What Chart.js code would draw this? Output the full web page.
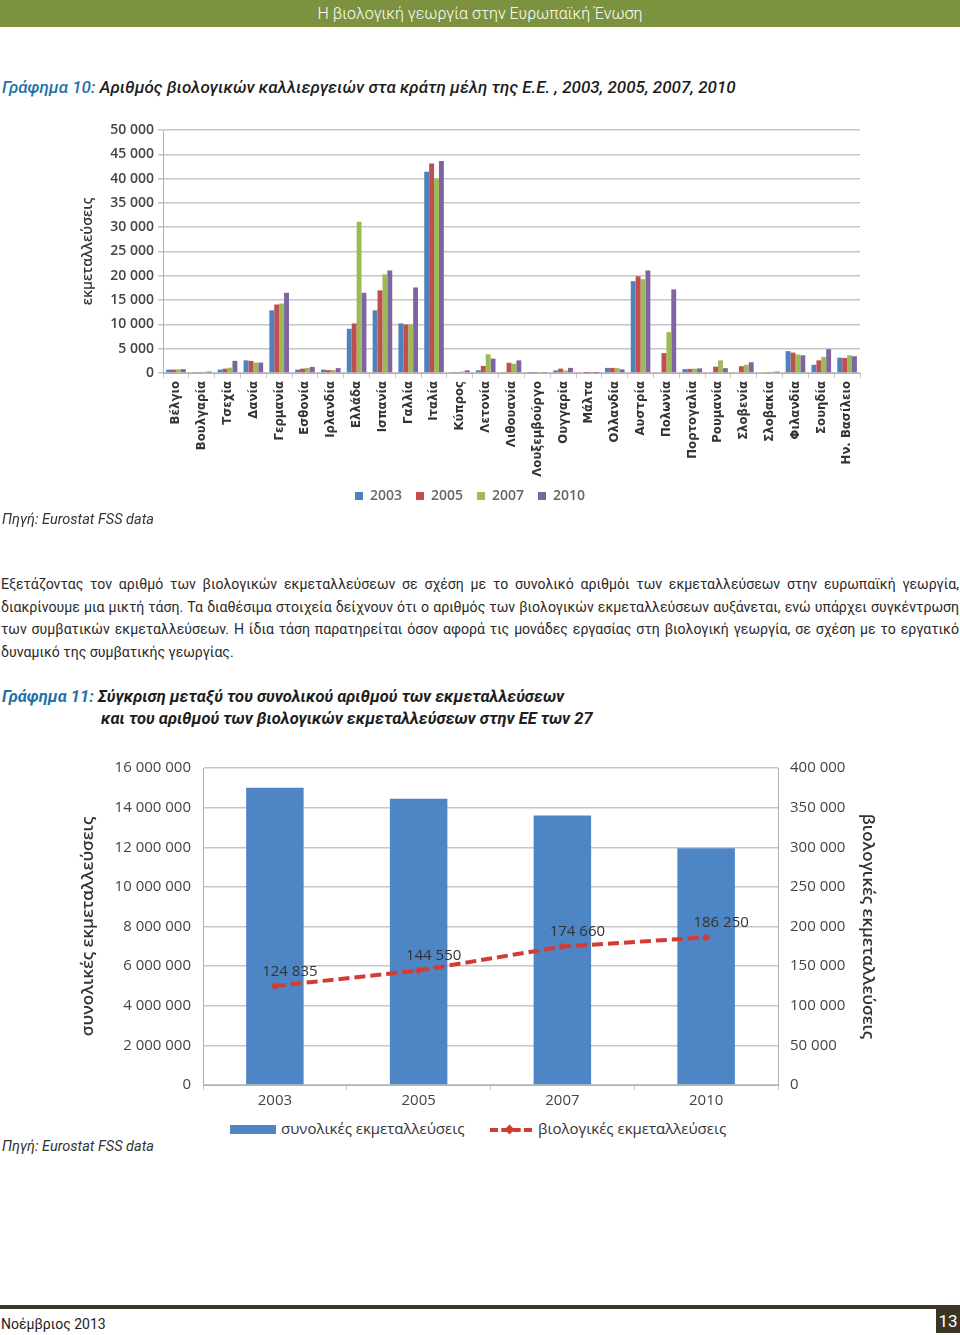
<!DOCTYPE html>
<html lang="el">
<head>
<meta charset="utf-8">
<title>Η βιολογική γεωργία στην Ευρωπαϊκή Ένωση</title>
<script src="https://cdn.jsdelivr.net/npm/chart.js@4.4.1/dist/chart.umd.min.js"></script>
<style>
  html, body { margin: 0; padding: 0; background: #fff; }
  body { width: 960px; height: 1335px; position: relative; overflow: hidden;
         font-family: Roboto, "Open Sans", sans-serif; color: #222; }
  .abs { position: absolute; }
  #header { left: 0; top: 0; width: 960px; height: 27px; background: #7c923e; color: #fff;
            text-align: center; font-size: 16px; font-weight: 300; line-height: 28px; }
  .title { left: 2px; font-style: italic; font-weight: 500; font-size: 17px; color: #1d1d1d; }
  .title b { color: #1f72a8; font-weight: 500; }
  .title2 { font-weight: 700; font-size: 16.5px; }
  .title2 b { font-weight: 700; }
  .source { left: 2px; font-style: italic; font-size: 14.5px; color: #333; }
  #para { left: 1px; top: 573px; width: 958px; font-size: 14.1px; line-height: 22.7px; color: #2a2a2a; }
  #para div { text-align: justify; text-align-last: justify; white-space: nowrap; }
  #para div.last { text-align-last: left; }
  #c1wrap { left: 80px; top: 110px; width: 822px; height: 403px; }
  #c2wrap { left: 60px; top: 747px; width: 840px; height: 363px; }
  #legend2 { left: 0; top: 1118px; width: 960px; height: 22px; font-family: "Open Sans", sans-serif;
             font-size: 15px; color: #333; }
  #footline { left: 0; top: 1305px; width: 960px; height: 4px; background: #3b3526; }
  #footdate { left: 1px; top: 1316px; font-size: 14px; color: #222; }
  #pagenum { left: 936px; top: 1309px; width: 24px; height: 24px; background: #3b3526; color: #fff;
             font-size: 17px; text-align: center; line-height: 24px; }
</style>
</head>
<body>

<div id="header" class="abs">Η βιολογική γεωργία στην Ευρωπαϊκή Ένωση</div>

<div class="abs title" style="top:77px"><b>Γράφημα 10:</b> Αριθμός βιολογικών καλλιεργειών στα κράτη μέλη της Ε.Ε. , 2003, 2005, 2007, 2010</div>

<div id="c1wrap" class="abs"><canvas id="chart1"></canvas></div>

<div class="abs source" style="top:511px">Πηγή: Eurostat FSS data</div>

<div id="para" class="abs">
  <div>Εξετάζοντας τον αριθμό των βιολογικών εκμεταλλεύσεων σε σχέση με το συνολικό αριθμόι των εκμεταλλεύσεων στην ευρωπαϊκή γεωργία,</div>
  <div>διακρίνουμε μια μικτή τάση. Τα διαθέσιμα στοιχεία δείχνουν ότι ο αριθμός των βιολογικών εκμεταλλεύσεων αυξάνεται, ενώ υπάρχει συγκέντρωση</div>
  <div>των συμβατικών εκμεταλλεύσεων. Η ίδια τάση παρατηρείται όσον αφορά τις μονάδες εργασίας στη βιολογική γεωργία, σε σχέση με το εργατικό</div>
  <div class="last">δυναμικό της συμβατικής γεωργίας.</div>
</div>

<div class="abs title title2" style="top:686px; line-height:22px"><b>Γράφημα 11:</b> Σύγκριση μεταξύ του συνολικού αριθμού των εκμεταλλεύσεων<br><span style="padding-left:99px">και του αριθμού των βιολογικών εκμεταλλεύσεων στην ΕΕ των 27</span></div>

<div id="c2wrap" class="abs"><canvas id="chart2"></canvas></div>

<div id="legend2" class="abs">
  <div class="abs" style="left:230px; top:7px; width:46px; height:9px; background:#4d85c5"></div>
  <div class="abs" style="left:281px; top:0">συνολικές εκμεταλλεύσεις</div>
  <div class="abs" style="left:490px; top:10px; width:42px; height:0; border-top:4px dashed #d23c33"></div>
  <div class="abs" style="left:506px; top:8px; width:7px; height:7px; background:#d23c33; transform:rotate(45deg)"></div>
  <div class="abs" style="left:538px; top:0">βιολογικές εκμεταλλεύσεις</div>
</div>

<div class="abs source" style="top:1138px">Πηγή: Eurostat FSS data</div>

<div id="footline" class="abs"></div>
<div id="footdate" class="abs">Νοέμβριος 2013</div>
<div id="pagenum" class="abs">13</div>

<script>
// ── Data: Γράφημα 10 ─────────────────────────────────────────────────────────
const countries = ['Βέλγιο', 'Βουλγαρία', 'Τσεχία', 'Δανία', 'Γερμανία', 'Εσθονία', 'Ιρλανδία',
  'Ελλάδα', 'Ισπανία', 'Γαλλία', 'Ιταλία', 'Κύπρος', 'Λετονία', 'Λιθουανία', 'Λουξεμβούργο',
  'Ουγγαρία', 'Μάλτα', 'Ολλανδία', 'Αυστρία', 'Πολωνία', 'Πορτογαλία', 'Ρουμανία', 'Σλοβενία',
  'Σλοβακία', 'Φιλανδία', 'Σουηδία', 'Ην. Βασίλειο'];

const farms2003 = [700, 200, 700, 2600, 12900, 700, 700, 9100, 12900, 10200, 41400, 100, 550, 200, 50,
  550, 0, 1050, 18900, 0, 800, 0, 0, 150, 4500, 1700, 3150];
const farms2005 = [700, 200, 900, 2500, 14100, 900, 600, 10200, 17000, 10000, 43100, 200, 1450, 2100, 60,
  900, 10, 1050, 19900, 4100, 850, 1300, 1400, 200, 4200, 2600, 3100];
const farms2007 = [750, 250, 1100, 2150, 14300, 1050, 600, 31100, 20300, 10000, 40000, 300, 3850, 1900, 70,
  500, 10, 1000, 19300, 8400, 900, 2600, 1700, 250, 3800, 3300, 3650];
const farms2010 = [800, 300, 2500, 2150, 16500, 1250, 1000, 16500, 21100, 17600, 43600, 550, 2950, 2600, 80,
  1050, 10, 750, 21100, 17200, 950, 1000, 2200, 300, 3650, 4900, 3450];

// ── Data: Γράφημα 11 ─────────────────────────────────────────────────────────
const years      = ['2003', '2005', '2007', '2010'];
const totalFarms = [15000000, 14450000, 13600000, 11950000];
const organic    = [124835, 144550, 174660, 186250];

// ── Helpers ───────────────────────────────────────────────────────────────────
const fmt = v => String(v).replace(/\B(?=(\d{3})+(?!\d))/g, ' ');
const GRID = '#c6c6c6';
const TXT  = '#3c3c3c';

Chart.defaults.font.family = '"Open Sans", sans-serif';
Chart.defaults.color = TXT;
Chart.defaults.animation = false;

// rotated country names, reading bottom-to-top, hanging below the axis
const rotatedLabels = {
  id: 'rotatedLabels',
  afterDraw(chart) {
    const x = chart.scales.x;
    const ctx = chart.ctx;
    ctx.save();
    ctx.font = 'bold 13px "Liberation Sans Narrow", "DejaVu Sans Condensed", Roboto, sans-serif';
    ctx.fillStyle = '#333';
    ctx.textAlign = 'right';
    ctx.textBaseline = 'middle';
    countries.forEach((name, i) => {
      ctx.save();
      ctx.translate(x.getPixelForValue(i), x.top + 8);
      ctx.rotate(-Math.PI / 2);
      ctx.fillText(name, 0, 0);
      ctx.restore();
    });
    ctx.restore();
  }
};

// value labels above the organic-farms line
const lineLabels = {
  id: 'lineLabels',
  afterDatasetsDraw(chart) {
    const meta = chart.getDatasetMeta(1);
    const ctx = chart.ctx;
    ctx.save();
    ctx.font = '15px "Open Sans", sans-serif';
    ctx.fillStyle = '#333';
    ctx.textAlign = 'center';
    ctx.textBaseline = 'bottom';
    meta.data.forEach((pt, i) => ctx.fillText(fmt(organic[i]), pt.x + 15, pt.y - 7));
    ctx.restore();
  }
};

// ── Γράφημα 10 ────────────────────────────────────────────────────────────────
new Chart(document.getElementById('chart1'), {
  type: 'bar',
  data: {
    labels: countries,
    datasets: [
      { label: '2003', data: farms2003, backgroundColor: '#4f81bd' },
      { label: '2005', data: farms2005, backgroundColor: '#c0504d' },
      { label: '2007', data: farms2007, backgroundColor: '#9bbb59' },
      { label: '2010', data: farms2010, backgroundColor: '#8064a2' },
    ]
  },
  options: {
    responsive: true,
    maintainAspectRatio: false,
    categoryPercentage: 0.76,
    barPercentage: 1,
    layout: { padding: { top: 20, right: 42 } },
    plugins: {
      legend: {
        position: 'bottom',
        labels: { boxWidth: 8, boxHeight: 8, padding: 14, color: '#666',
                  font: { size: 14, weight: '600' } }
      },
      tooltip: { enabled: false }
    },
    scales: {
      x: {
        afterFit: s => { s.height = 102; },
        ticks: { display: false },
        grid: { offset: true, drawOnChartArea: false, tickLength: 5, color: GRID },
        border: { color: '#b0b0b0' }
      },
      y: {
        min: 0, max: 50000,
        afterFit: s => { s.width = 83; },
        ticks: { stepSize: 5000, callback: v => fmt(v), font: { size: 14, weight: '600' }, color: '#444', padding: 4 },
        grid: { color: GRID, lineWidth: 1.5, tickLength: 5 },
        border: { color: '#b0b0b0' },
        title: { display: true, text: 'εκμεταλλεύσεις', padding: { top: 0, bottom: 0 },
                 font: { size: 14, weight: '600' }, color: '#333' }
      }
    }
  },
  plugins: [rotatedLabels]
});

// ── Γράφημα 11 ────────────────────────────────────────────────────────────────
new Chart(document.getElementById('chart2'), {
  data: {
    labels: years,
    datasets: [
      { type: 'bar', label: 'συνολικές εκμεταλλεύσεις', data: totalFarms, yAxisID: 'y',
        backgroundColor: '#4d85c5', barPercentage: 0.4, categoryPercentage: 1, order: 2 },
      { type: 'line', label: 'βιολογικές εκμεταλλεύσεις', data: organic, yAxisID: 'y1',
        borderColor: '#d23c33', backgroundColor: '#d23c33', borderWidth: 4, borderDash: [11, 5],
        pointStyle: 'rectRot', pointRadius: 4, pointBorderWidth: 0, tension: 0, order: 1 }
    ]
  },
  options: {
    responsive: true,
    maintainAspectRatio: false,
    layout: { padding: { top: 14 } },
    plugins: { legend: { display: false }, tooltip: { enabled: false } },
    scales: {
      x: {
        afterFit: s => { s.height = 25; },
        ticks: { font: { size: 15 }, color: '#444', padding: 2 },
        grid: { offset: true, drawOnChartArea: false, tickLength: 5, color: GRID },
        border: { color: '#b0b0b0' }
      },
      y: {
        position: 'left', min: 0, max: 16000000,
        afterFit: s => { s.width = 143; },
        ticks: { stepSize: 2000000, callback: v => fmt(v), font: { size: 15 }, color: '#444', padding: 12 },
        grid: { color: GRID, lineWidth: 1.5, drawTicks: false },
        border: { color: '#b0b0b0' },
        title: { display: true, text: 'συνολικές εκμεταλλεύσεις', padding: { top: 18, bottom: 0 },
                 font: { size: 17, weight: '600' }, color: '#333' }
      },
      y1: {
        position: 'right', min: 0, max: 400000,
        afterFit: s => { s.width = 122; },
        ticks: { stepSize: 50000, callback: v => fmt(v), font: { size: 15 }, color: '#444', padding: 12 },
        grid: { drawOnChartArea: false, drawTicks: false },
        border: { color: '#b0b0b0' },
        title: { display: true, text: 'βιολογικές εκμεταλλεύσεις', padding: { top: 22, bottom: 0 },
                 font: { size: 17, weight: '600' }, color: '#333' }
      }
    }
  },
  plugins: [lineLabels]
});
</script>
</body>
</html>
